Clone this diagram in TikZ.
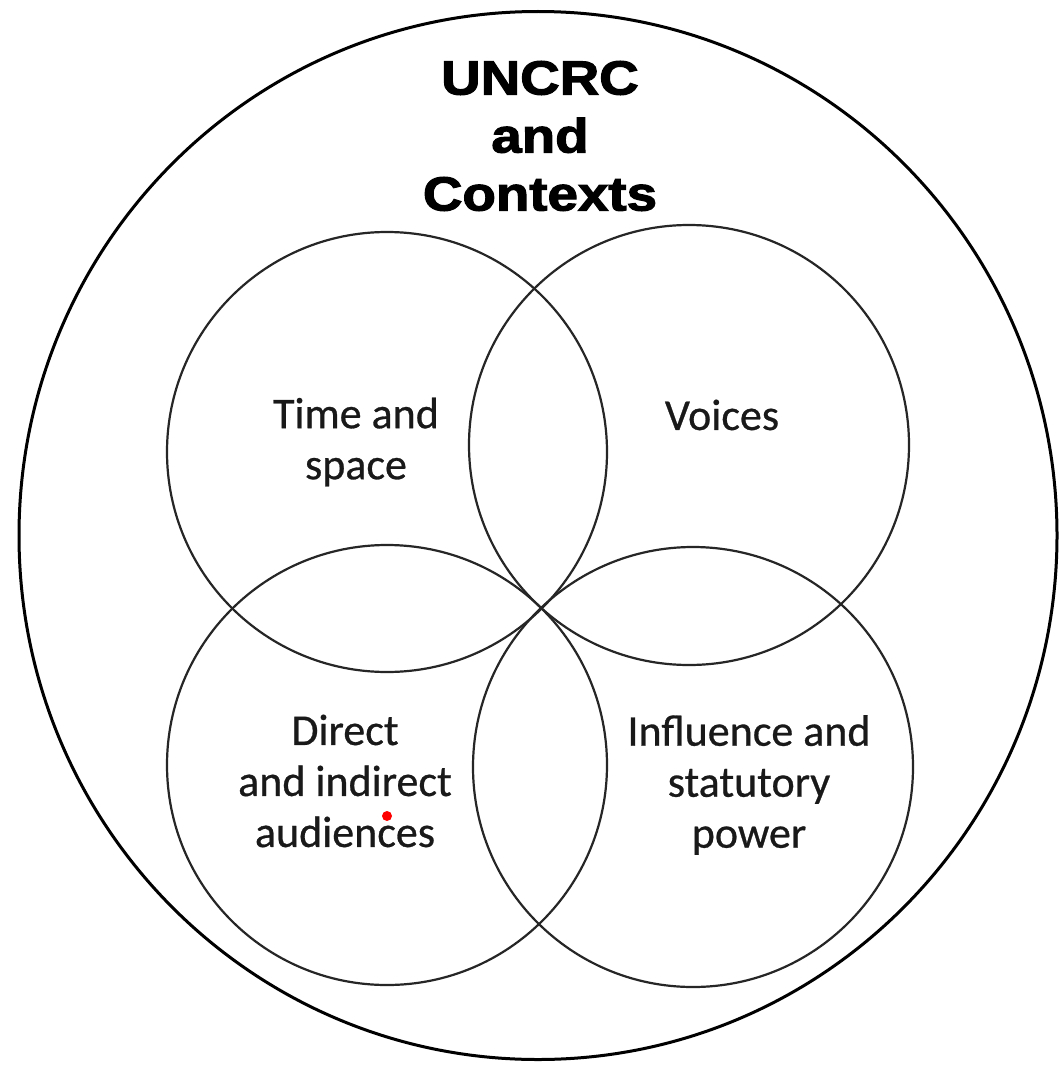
\documentclass[tikz,border=0pt]{standalone}
\usepackage{fontspec}
\newfontfamily\titlefont{Liberation Sans Bold}[FakeBold=2.2]
\newfontfamily\bodyfont{Carlito}[FakeBold=0.6]
\begin{document}
\begin{tikzpicture}[x=1pt,y=-1pt,
  ring/.style={draw=black!85,line width=2.2pt},
  outerring/.style={draw=black,line width=3pt},
  label/.style={align=center,font=\bodyfont\fontsize{44}{51}\selectfont,inner sep=0pt,text=black!90},
  titlestyle/.style={align=center,font=\titlefont\fontsize{48}{58}\selectfont,inner sep=0pt,xscale=1.14,transform shape}]
\useasboundingbox (0,0) rectangle (1058,1065);
\fill[white] (0,0) rectangle (1058,1065);
\draw[outerring] (538,535.5) ellipse [x radius=519, y radius=524];
\node[ring,circle,minimum size=440pt,inner sep=0pt] (tl) at (387,452) {};
\node[ring,circle,minimum size=440pt,inner sep=0pt] (tr) at (689,445) {};
\node[ring,circle,minimum size=440pt,inner sep=0pt] (bl) at (387,765) {};
\node[ring,circle,minimum size=440pt,inner sep=0pt] (br) at (693,767) {};
\node[titlestyle] (title) at (540,136) {UNCRC\\and\\Contexts};
\node[label] (time) at (356,442) {Time and\\space};
\node[label] (voices) at (722,415) {Voices};
\node[label] (direct) at (345,781) {Direct\\and indirect\\audiences};
\node[label] (influence) at (749,785) {Influence and\\statutory\\power};
\fill[red] (387,816) circle [radius=5];
\end{tikzpicture}
\end{document}
